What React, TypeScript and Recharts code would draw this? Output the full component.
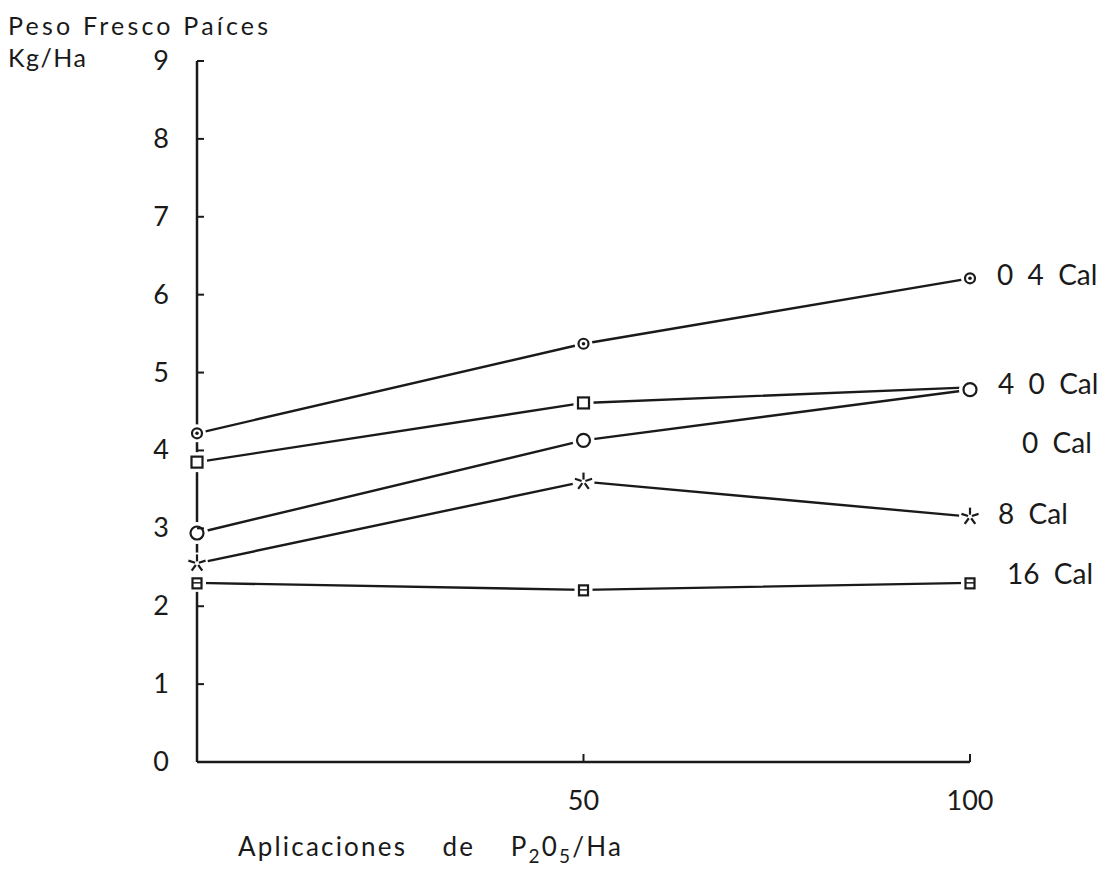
import { Line, LineChart, XAxis, YAxis } from "recharts";

// P2O5 rates (kg/Ha) on the x axis
const doses = [0, 50, 100];

// fresh root weight per liming treatment
const cal04 = [4.22, 5.37, 6.21];
const cal40 = [3.85, 4.61, 4.81];
const cal0 = [2.94, 4.13, 4.78];
const cal8 = [2.55, 3.6, 3.15];
const cal16 = [2.3, 2.21, 2.3];

const seriesNames = ["0  4  Cal", "4  0  Cal", "0  Cal", "8  Cal", "16  Cal"];
const yTicks = [0, 1, 2, 3, 4, 5, 6, 7, 8, 9];
const xTicks = [50, 100];

const FONT = "Lato, 'Open Sans', sans-serif";
const INK = "#1a1a1a";

const data = doses.map((d, i) => ({
  dose: d,
  cal04: cal04[i],
  cal40: cal40[i],
  cal0: cal0[i],
  cal8: cal8[i],
  cal16: cal16[i],
}));

type MarkerKind = "dotCircle" | "square" | "circle" | "star" | "smallSquare";

function Marker({ kind, cx, cy }: { kind: MarkerKind; cx: number; cy: number }) {
  const s = { stroke: INK, strokeWidth: 2.2, fill: "#fff" };
  if (kind === "dotCircle") {
    return (
      <g>
        <circle cx={cx} cy={cy} r={9} fill="#fff" />
        <circle cx={cx} cy={cy} r={5} {...s} />
        <circle cx={cx} cy={cy} r={1.8} fill={INK} />
      </g>
    );
  }
  if (kind === "square") {
    return (
      <g>
        <rect x={cx - 10} y={cy - 10} width={20} height={20} fill="#fff" />
        <rect x={cx - 5.5} y={cy - 5.5} width={11} height={11} {...s} />
      </g>
    );
  }
  if (kind === "circle") {
    return (
      <g>
        <circle cx={cx} cy={cy} r={11} fill="#fff" />
        <circle cx={cx} cy={cy} r={6.5} {...s} />
      </g>
    );
  }
  if (kind === "star") {
    const arms = [-90, -18, 54, 126, 198].map((a) => (a * Math.PI) / 180);
    return (
      <g>
        <circle cx={cx} cy={cy} r={11} fill="#fff" />
        {arms.map((a, i) => (
          <line
            key={i}
            x1={cx + Math.cos(a) * 2}
            y1={cy + Math.sin(a) * 2}
            x2={cx + Math.cos(a) * 9}
            y2={cy + Math.sin(a) * 9}
            stroke={INK}
            strokeWidth={2.2}
          />
        ))}
      </g>
    );
  }
  return (
    <g>
      <rect x={cx - 9} y={cy - 9} width={18} height={18} fill="#fff" />
      <rect x={cx - 4.5} y={cy - 4.5} width={9} height={10} {...s} />
      <line x1={cx - 4.5} y1={cy} x2={cx + 4.5} y2={cy} stroke={INK} strokeWidth={1.5} />
    </g>
  );
}

const series: { key: string; kind: MarkerKind; dx: number; dy: number }[] = [
  { key: "cal04", kind: "dotCircle", dx: 27, dy: -2 },
  { key: "cal40", kind: "square", dx: 28, dy: -2 },
  { key: "cal0", kind: "circle", dx: 52, dy: 54 },
  { key: "cal8", kind: "star", dx: 28, dy: -2 },
  { key: "cal16", kind: "smallSquare", dx: 37, dy: -8 },
];

function YTick({ x, y, payload }: any) {
  return (
    <g>
      <line x1={x} y1={y} x2={x + 7} y2={y} stroke={INK} strokeWidth={2} />
      <text x={x - 28} y={y} dy={9} textAnchor="end" fontSize={27} fontFamily={FONT} fill={INK}>
        {payload.value}
      </text>
    </g>
  );
}

function XTick({ x, y, payload }: any) {
  return (
    <g>
      <line x1={x} y1={y} x2={x} y2={y - 8} stroke={INK} strokeWidth={2} />
      <text x={x} y={y + 48} textAnchor="middle" fontSize={27} fontFamily={FONT} fill={INK}>
        {payload.value}
      </text>
    </g>
  );
}

function YTitle() {
  return (
    <g fontFamily={FONT} fill={INK} fontSize={25}>
      <text x={8} y={35} letterSpacing={3.2}>Peso Fresco Paíces</text>
      <text x={8} y={67} letterSpacing={1.5}>Kg/Ha</text>
    </g>
  );
}

function XTitle() {
  return (
    <text x={238} y={856} fontFamily={FONT} fill={INK} fontSize={26} letterSpacing={2.2} style={{ whiteSpace: "pre" }}>
      Aplicaciones{"    "}de{"    "}P
      <tspan fontSize={19} dy={7}>2</tspan>
      <tspan dy={-7}>0</tspan>
      <tspan fontSize={19} dy={7}>5</tspan>
      <tspan dy={-7}>/Ha</tspan>
    </text>
  );
}

export default function App() {
  return (
    <div style={{ position: "absolute", left: 0, top: 0, background: "#fff" }}>
      <LineChart
        width={1114}
        height={873}
        data={data}
        margin={{ top: 61, right: 144, bottom: 0, left: 0 }}
      >
        <XAxis
          dataKey="dose"
          type="number"
          domain={[0, 100]}
          ticks={xTicks}
          height={111}
          tickSize={0}
          tickMargin={0}
          axisLine={{ stroke: INK, strokeWidth: 2.5 }}
          tick={<XTick />}
          label={{ content: () => <XTitle /> }}
        />
        <YAxis
          type="number"
          domain={[0, 9]}
          ticks={yTicks}
          width={197}
          tickSize={0}
          tickMargin={0}
          axisLine={{ stroke: INK, strokeWidth: 2.5 }}
          tick={<YTick />}
          label={{ content: () => <YTitle /> }}
        />
        {series.map((s, si) => (
          <Line
            key={s.key}
            dataKey={s.key}
            stroke={INK}
            strokeWidth={2.4}
            isAnimationActive={false}
            dot={(p: any) => <Marker key={`${s.key}-${p.index}`} kind={s.kind} cx={p.cx} cy={p.cy} />}
            activeDot={false}
            label={(p: any) =>
              p.index === doses.length - 1 ? (
                <text
                  key={`${s.key}-lbl`}
                  x={p.x + s.dx}
                  y={p.y + s.dy}
                  dy={9}
                  fontSize={28}
                  fontFamily={FONT}
                  fill={INK}
                  style={{ whiteSpace: "pre" }}
                >
                  {seriesNames[si]}
                </text>
              ) : (
                <g key={`${s.key}-lbl-${p.index}`} />
              )
            }
          />
        ))}
      </LineChart>
    </div>
  );
}
